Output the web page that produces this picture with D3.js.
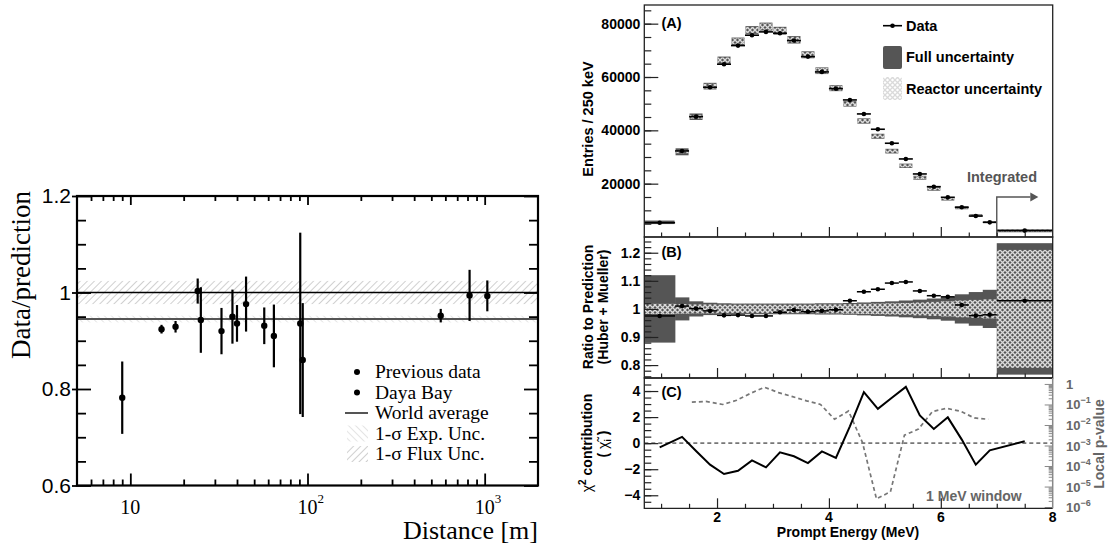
<!DOCTYPE html>
<html>
<head>
<meta charset="utf-8">
<title>Reactor flux deficit and prompt spectrum</title>
<script src="https://d3js.org/d3.v7.min.js"></script>
<style>
body { margin: 0; background: #fff; }
svg { display: block; }
.serif { font-family: "Liberation Serif", "Times New Roman", serif; }
.sans { font-family: "Liberation Sans", Arial, Helvetica, sans-serif; font-weight: bold; }
.axis path.domain { display: none; }
</style>
</head>
<body>
<svg id="chart" width="1108" height="545"></svg>
<script>

// ---- left panel: data/prediction vs baseline ----
var prevDist  = [9.0, 15, 18, 24, 25, 32.7, 37.7, 40, 45, 57, 64.6, 91, 94, 822, 1035];
var prevRatio = [0.782, 0.924, 0.929, 1.003, 0.943, 0.920, 0.950, 0.936, 0.976, 0.931, 0.910, 0.936, 0.860, 0.994, 0.993];
var prevErr   = [0.075, 0.009, 0.012, 0.026, 0.068, 0.048, 0.056, 0.038, 0.057, 0.038, 0.065, 0.188, 0.118, 0.053, 0.032];
var dybDist  = [565];
var dybRatio = [0.952];
var dybErr   = [0.014];
var worldAvg = 0.945, expUnc = 0.007;
var fluxUnc = 0.024;
var legendLeft = ["Previous data", "Daya Bay", "World average", "1-\u03c3 Exp. Unc.", "1-\u03c3 Flux Unc."];

// ---- right panel: prompt energy spectrum ----
var binEdges   = [0.7, 1.25, 1.5, 1.75, 2.0, 2.25, 2.5, 2.75, 3.0, 3.25, 3.5, 3.75, 4.0, 4.25, 4.5, 4.75, 5.0, 5.25, 5.5, 5.75, 6.0, 6.25, 6.5, 6.75, 7.0, 8.0];
var dataCounts = [5370, 32270, 45140, 56170, 64800, 71780, 75680, 76920, 76420, 73660, 67650, 61910, 55640, 51400, 46150, 40410, 35160, 29270, 23640, 18870, 14890, 11140, 7880, 5500, 2400];
var predCounts = [5510, 31950, 45100, 56570, 66330, 73390, 77620, 78890, 77350, 73960, 68330, 62350, 55810, 49950, 43500, 37770, 32200, 26710, 22220, 18020, 14280, 10990, 8070, 5620, 2330];
var dataRatio  = [0.975, 1.010, 1.001, 0.993, 0.977, 0.978, 0.975, 0.975, 0.988, 0.996, 0.990, 0.993, 0.997, 1.029, 1.061, 1.070, 1.092, 1.096, 1.064, 1.047, 1.043, 1.014, 0.976, 0.979, 1.029];
var fullUnc    = [0.120, 0.041, 0.027, 0.022, 0.020, 0.019, 0.019, 0.019, 0.019, 0.019, 0.019, 0.020, 0.020, 0.021, 0.023, 0.025, 0.027, 0.030, 0.033, 0.037, 0.042, 0.052, 0.060, 0.068, 0.234];
var reactorUnc = [0.018, 0.017, 0.016, 0.016, 0.015, 0.015, 0.015, 0.015, 0.015, 0.015, 0.015, 0.016, 0.016, 0.017, 0.018, 0.019, 0.020, 0.021, 0.023, 0.025, 0.027, 0.030, 0.032, 0.034, 0.210];
var chiContrib = [-0.32, 0.48, -0.6, -1.65, -2.37, -2.12, -1.32, -1.86, -0.71, -1.01, -1.53, -0.63, -1.14, 1.29, 3.91, 2.63, 3.48, 4.32, 2.12, 1.09, 1.98, 0.27, -1.65, -0.55, 0.14];
var pWindowE = [1.55, 1.8, 2.1, 2.35, 2.6, 2.85, 3.1, 3.35, 3.6, 3.85, 4.1, 4.35, 4.6, 4.85, 5.1, 5.35, 5.6, 5.85, 6.1, 6.35, 6.6, 6.85];
var pLocal   = [0.13, 0.14, 0.10, 0.16, 0.35, 0.69, 0.38, 0.24, 0.15, 0.10, 0.019, 0.048, 0.0014, 2.5e-6, 5.6e-6, 0.0032, 0.0063, 0.045, 0.065, 0.047, 0.022, 0.019];

var svg = d3.select("#chart");
var defs = svg.append("defs");

// hatch patterns
defs.append("pattern").attr("id", "hatchFlux").attr("patternUnits", "userSpaceOnUse")
    .attr("width", 5).attr("height", 5).attr("patternTransform", "rotate(45)")
  .append("line").attr("x1", 0).attr("y1", 0).attr("x2", 0).attr("y2", 5)
    .attr("stroke", "#a8a8a8").attr("stroke-width", 1.1);
defs.append("pattern").attr("id", "hatchExp").attr("patternUnits", "userSpaceOnUse")
    .attr("width", 5).attr("height", 5).attr("patternTransform", "rotate(-45)")
  .append("line").attr("x1", 0).attr("y1", 0).attr("x2", 0).attr("y2", 5)
    .attr("stroke", "#cfcfcf").attr("stroke-width", 1.1);
defs.append("pattern").attr("id", "xhatch").attr("patternUnits", "userSpaceOnUse")
    .attr("width", 5).attr("height", 5)
  .append("path").attr("d", "M0,0L5,5M5,0L0,5")
    .attr("stroke", "#dadada").attr("stroke-width", 1.3);

/* ================= LEFT PANEL ================= */
var L = svg.append("g").attr("class", "serif");
var xL = d3.scaleLog().domain([5, 2000]).range([77, 538]);
var yL = d3.scaleLinear().domain([0.6, 1.2]).range([485.5, 196]);

// bands
L.append("rect").attr("x", xL(5)).attr("width", xL(2000) - xL(5))
  .attr("y", yL(1 + fluxUnc)).attr("height", yL(1 - fluxUnc) - yL(1 + fluxUnc))
  .attr("fill", "url(#hatchFlux)");
L.append("rect").attr("x", xL(5)).attr("width", xL(2000) - xL(5))
  .attr("y", yL(worldAvg + expUnc)).attr("height", yL(worldAvg - expUnc) - yL(worldAvg + expUnc))
  .attr("fill", "url(#hatchExp)");
L.append("line").attr("x1", xL(5)).attr("x2", xL(2000)).attr("y1", yL(1)).attr("y2", yL(1))
  .attr("stroke", "#000").attr("stroke-width", 1.6);
L.append("line").attr("x1", xL(5)).attr("x2", xL(2000)).attr("y1", yL(worldAvg)).attr("y2", yL(worldAvg))
  .attr("stroke", "#555").attr("stroke-width", 2);

var ptsL = prevDist.map(function(d, i) { return {d: d, r: prevRatio[i], e: prevErr[i]}; })
  .concat(dybDist.map(function(d, i) { return {d: d, r: dybRatio[i], e: dybErr[i]}; }));

L.selectAll("line.err").data(ptsL).enter().append("line").attr("class", "err")
  .attr("x1", function(p) { return xL(p.d); }).attr("x2", function(p) { return xL(p.d); })
  .attr("y1", function(p) { return yL(p.r + p.e); }).attr("y2", function(p) { return yL(p.r - p.e); })
  .attr("stroke", "#000").attr("stroke-width", 2.2);
L.selectAll("circle.pt").data(ptsL).enter().append("circle").attr("class", "pt")
  .attr("cx", function(p) { return xL(p.d); }).attr("cy", function(p) { return yL(p.r); })
  .attr("r", 3.2).attr("fill", "#000");

// axes, ticks point inward
var minorY = [0.65, 0.7, 0.75, 0.85, 0.9, 0.95, 1.05, 1.1, 1.15];
var majorY = [0.6, 0.8, 1.0, 1.2];
var minorX = [6, 7, 8, 9, 20, 30, 40, 50, 60, 70, 80, 90, 200, 300, 400, 500, 600, 700, 800, 900];
var majorX = [10, 100, 1000];

function noLab() { return ""; }
L.append("g").attr("class", "axis").attr("transform", "translate(77,0)")
  .call(d3.axisLeft(yL).tickValues(minorY).tickSize(-9).tickFormat(noLab));
L.append("g").attr("class", "axis").attr("transform", "translate(77,0)")
  .call(d3.axisLeft(yL).tickValues(majorY).tickSize(-14).tickFormat(noLab));
L.append("g").attr("class", "axis").attr("transform", "translate(77,0)")
  .call(d3.axisLeft(yL).tickValues(majorY).tickSize(5).tickPadding(1)
    .tickFormat(function(d) { return d === 1 ? "1" : d3.format(".1f")(d); }))
  .selectAll("text").attr("font-size", 21).attr("fill", "#000");
L.append("g").attr("class", "axis").attr("transform", "translate(538,0)")
  .call(d3.axisRight(yL).tickValues(minorY).tickSize(-9).tickFormat(noLab));
L.append("g").attr("class", "axis").attr("transform", "translate(538,0)")
  .call(d3.axisRight(yL).tickValues(majorY).tickSize(-14).tickFormat(noLab));
L.append("g").attr("class", "axis").attr("transform", "translate(0,485.5)")
  .call(d3.axisBottom(xL).tickValues(minorX).tickSize(-6).tickFormat(noLab));
L.append("g").attr("class", "axis").attr("transform", "translate(0,485.5)")
  .call(d3.axisBottom(xL).tickValues(majorX).tickSize(-12).tickFormat(noLab));
L.append("g").attr("class", "axis").attr("transform", "translate(0,196)")
  .call(d3.axisTop(xL).tickValues(minorX).tickSize(-5).tickFormat(noLab));
L.append("g").attr("class", "axis").attr("transform", "translate(0,196)")
  .call(d3.axisTop(xL).tickValues(majorX).tickSize(-9).tickFormat(noLab));
L.selectAll(".axis line").attr("stroke", "#000").attr("stroke-width", 1.8);

L.append("rect").attr("x", 77).attr("y", 196).attr("width", 461).attr("height", 289.5)
  .attr("fill", "none").attr("stroke", "#000").attr("stroke-width", 2.2);

// log tick labels
var xlab = L.append("g").attr("font-size", 20);
xlab.append("text").attr("x", xL(10)).attr("y", 514).attr("text-anchor", "middle").text("10");
[[100, "2"], [1000, "3"]].forEach(function(t) {
  xlab.append("text").attr("x", xL(t[0]) - 10).attr("y", 514).text("10");
  xlab.append("text").attr("x", xL(t[0]) + 10).attr("y", 503).attr("font-size", 13).text(t[1]);
});

L.append("text").attr("x", 538).attr("y", 539).attr("text-anchor", "end")
  .attr("font-size", 26).text("Distance [m]");
L.append("text").attr("transform", "translate(30,275) rotate(-90)").attr("text-anchor", "middle")
  .attr("font-size", 27).text("Data/prediction");

// legend
var lg = L.append("g").attr("font-size", 19.5);
var lgY = [372, 392.5, 413, 433.5, 454];
lg.append("circle").attr("cx", 357).attr("cy", lgY[0]).attr("r", 3).attr("fill", "#000");
lg.append("circle").attr("cx", 357).attr("cy", lgY[1]).attr("r", 3).attr("fill", "#000");
lg.append("line").attr("x1", 345).attr("x2", 368).attr("y1", lgY[2]).attr("y2", lgY[2])
  .attr("stroke", "#555").attr("stroke-width", 2);
lg.append("rect").attr("x", 347).attr("y", lgY[3] - 8).attr("width", 21).attr("height", 16).attr("fill", "url(#hatchExp)");
lg.append("rect").attr("x", 347).attr("y", lgY[4] - 8).attr("width", 21).attr("height", 16).attr("fill", "url(#hatchFlux)");
lg.selectAll("text").data(legendLeft).enter().append("text")
  .attr("x", 375).attr("y", function(d, i) { return lgY[i] + 6; }).text(function(d) { return d; });

/* ================= RIGHT PANEL ================= */
var R = svg.append("g").attr("class", "sans");
var xR = d3.scaleLinear().domain([0.7, 8]).range([644.3, 1052.7]);
var yA = d3.scaleLinear().domain([0, 87000]).range([237, 5]);
var yB = d3.scaleLinear().domain([0.754, 1.256]).range([378, 237]);
var yC = d3.scaleLinear().domain([-5, 5]).range([508.3, 378]);
var yP = d3.scaleLog().domain([Math.pow(10, -6.06), Math.pow(10, 0.29)]).range([508.3, 378]);

var bins = dataCounts.map(function(n, i) {
  return {lo: binEdges[i], hi: binEdges[i + 1], mid: (binEdges[i] + binEdges[i + 1]) / 2,
          n: n, pred: predCounts[i], r: dataRatio[i], full: fullUnc[i], reac: reactorUnc[i], chi: chiContrib[i]};
});

// --- (A) spectrum
var gA = R.append("g");
gA.selectAll("rect.full").data(bins).enter().append("rect").attr("class", "full")
  .attr("x", function(b) { return xR(b.lo) + 0.5; })
  .attr("width", function(b) { return xR(b.hi) - xR(b.lo) - 1; })
  .attr("y", function(b) { return yA(b.pred * (1 + b.full)); })
  .attr("height", function(b) { return yA(b.pred * (1 - b.full)) - yA(b.pred * (1 + b.full)); })
  .attr("fill", "#555");
gA.selectAll("rect.reac").data(bins).enter().append("rect").attr("class", "reac")
  .attr("x", function(b) { return xR(b.lo) + 0.5; })
  .attr("width", function(b) { return xR(b.hi) - xR(b.lo) - 1; })
  .attr("y", function(b) { return yA(b.pred * (1 + b.reac)); })
  .attr("height", function(b) { return yA(b.pred * (1 - b.reac)) - yA(b.pred * (1 + b.reac)); })
  .attr("fill", "url(#xhatch)");
gA.selectAll("line.dat").data(bins).enter().append("line").attr("class", "dat")
  .attr("x1", function(b) { return xR(b.lo); }).attr("x2", function(b) { return xR(b.hi); })
  .attr("y1", function(b) { return yA(b.n); }).attr("y2", function(b) { return yA(b.n); })
  .attr("stroke", "#000").attr("stroke-width", 1.6);
gA.selectAll("circle.dat").data(bins).enter().append("circle").attr("class", "dat")
  .attr("cx", function(b) { return xR(b.mid); }).attr("cy", function(b) { return yA(b.n); })
  .attr("r", 2.3).attr("fill", "#000");

// integrated arrow
gA.append("path")
  .attr("d", "M" + xR(7.0) + "," + yA(0) + "V" + yA(15000) + "H" + xR(7.6))
  .attr("fill", "none").attr("stroke", "#555").attr("stroke-width", 1.4);
gA.append("path")
  .attr("d", "M" + xR(7.6) + "," + (yA(15000) - 4.5) + "L" + (xR(7.6) + 8) + "," + yA(15000) + "L" + xR(7.6) + "," + (yA(15000) + 4.5) + "Z")
  .attr("fill", "#555");
gA.append("text").attr("x", xR(7.72)).attr("y", 182).attr("text-anchor", "end")
  .attr("font-size", 14.5).attr("fill", "#555").text("Integrated");

// legend (A)
var lA = R.append("g").attr("font-size", 14.5);
lA.append("line").attr("x1", 883).attr("x2", 902).attr("y1", 25.7).attr("y2", 25.7).attr("stroke", "#000").attr("stroke-width", 1.6);
lA.append("circle").attr("cx", 892.5).attr("cy", 25.7).attr("r", 2.3).attr("fill", "#000");
lA.append("rect").attr("x", 883).attr("y", 46).attr("width", 19).attr("height", 23).attr("rx", 2).attr("fill", "#555");
lA.append("rect").attr("x", 883).attr("y", 77).attr("width", 19).attr("height", 23).attr("rx", 2).attr("fill", "#fff");
lA.append("rect").attr("x", 883).attr("y", 77).attr("width", 19).attr("height", 23).attr("rx", 2).attr("fill", "url(#xhatch)");
lA.selectAll("text").data(["Data", "Full uncertainty", "Reactor uncertainty"]).enter().append("text")
  .attr("x", 906).attr("y", function(d, i) { return [31, 62, 93.5][i]; }).text(function(d) { return d; });

// --- (B) ratio
var gB = R.append("g");
gB.selectAll("rect.full").data(bins).enter().append("rect")
  .attr("x", function(b) { return xR(b.lo); })
  .attr("width", function(b) { return xR(b.hi) - xR(b.lo) + 0.3; })
  .attr("y", function(b) { return yB(1 + b.full); })
  .attr("height", function(b) { return yB(1 - b.full) - yB(1 + b.full); })
  .attr("fill", "#555");
gB.selectAll("rect.reac").data(bins).enter().append("rect")
  .attr("x", function(b) { return xR(b.lo); })
  .attr("width", function(b) { return xR(b.hi) - xR(b.lo) + 0.3; })
  .attr("y", function(b) { return yB(1 + b.reac); })
  .attr("height", function(b) { return yB(1 - b.reac) - yB(1 + b.reac); })
  .attr("fill", "url(#xhatch)");
gB.selectAll("line.dat").data(bins).enter().append("line")
  .attr("x1", function(b) { return xR(b.lo); }).attr("x2", function(b) { return xR(b.hi); })
  .attr("y1", function(b) { return yB(b.r); }).attr("y2", function(b) { return yB(b.r); })
  .attr("stroke", "#000").attr("stroke-width", 1.5);
gB.selectAll("circle.dat").data(bins).enter().append("circle")
  .attr("cx", function(b) { return xR(b.mid); }).attr("cy", function(b) { return yB(b.r); })
  .attr("r", 2.3).attr("fill", "#000");

// --- (C) chi2 contribution and local p-value
var gC = R.append("g");
gC.append("line").attr("x1", xR(0.7)).attr("x2", xR(8)).attr("y1", yC(0)).attr("y2", yC(0))
  .attr("stroke", "#777").attr("stroke-width", 1.6).attr("stroke-dasharray", "4,3");
gC.append("path").datum(pWindowE.map(function(e, i) { return [e, pLocal[i]]; }))
  .attr("d", d3.line().x(function(d) { return xR(d[0]); }).y(function(d) { return yP(d[1]); }))
  .attr("fill", "none").attr("stroke", "#777").attr("stroke-width", 1.7).attr("stroke-dasharray", "4,3");
gC.append("path").datum(bins)
  .attr("d", d3.line().x(function(b) { return xR(b.mid); }).y(function(b) { return yC(b.chi); }))
  .attr("fill", "none").attr("stroke", "#000").attr("stroke-width", 2);
gC.append("text").attr("x", xR(7.0) + 25).attr("y", 501).attr("text-anchor", "end")
  .attr("font-size", 14).attr("fill", "#666").text("1 MeV window");

// axes of right panel
var axR = R.append("g");
function leftTicks(scale, major, minor, fmt) {
  axR.append("g").attr("class", "axis").attr("transform", "translate(644.3,0)")
    .call(d3.axisLeft(scale).tickValues(minor).tickSize(-7).tickFormat(noLab));
  axR.append("g").attr("class", "axis lab").attr("transform", "translate(644.3,0)")
    .call(d3.axisLeft(scale).tickValues(major).tickSize(-14).tickPadding(4).tickFormat(fmt));
}
leftTicks(yA, [20000, 40000, 60000, 80000], d3.range(5000, 86000, 5000), d3.format("d"));
leftTicks(yB, [0.8, 0.9, 1.0, 1.1, 1.2], d3.range(0.76, 1.255, 0.02),
  function(d) { return d === 1 ? "1" : d3.format(".1f")(d); });
leftTicks(yC, [-4, -2, 0, 2, 4], d3.range(-4.5, 5, 0.5),
  function(d) { return d < 0 ? "\u2212" + (-d) : String(d); });

var eMinor = [1, 1.5, 2.5, 3, 3.5, 4.5, 5, 5.5, 6.5, 7, 7.5];
[237, 378, 508.3].forEach(function(y) {
  axR.append("g").attr("class", "axis").attr("transform", "translate(0," + y + ")")
    .call(d3.axisBottom(xR).tickValues(eMinor).tickSize(-4.5).tickFormat(noLab));
  axR.append("g").attr("class", "axis").attr("transform", "translate(0," + y + ")")
    .call(d3.axisBottom(xR).tickValues([2, 4, 6]).tickSize(-10).tickFormat(noLab));
});
axR.selectAll(".axis line").attr("stroke", "#222").attr("stroke-width", 1.2);
axR.selectAll(".lab text").attr("font-size", 14).attr("fill", "#000");

// x tick labels
axR.selectAll("text.xl").data([2, 4, 6, 8]).enter().append("text")
  .attr("x", function(d) { return xR(d); }).attr("y", 522).attr("text-anchor", "middle")
  .attr("font-size", 14).text(function(d) { return d; });

// p-value axis (gray, right of C)
var pMajor = [1e-6, 1e-5, 1e-4, 1e-3, 1e-2, 1e-1, 1];
var pMinor = [];
pMajor.slice(0, 6).forEach(function(m) { [2, 3, 4, 5, 6, 7, 8, 9].forEach(function(k) { pMinor.push(m * k); }); });
pMinor.push(2, 0.95e-6);
var axP = R.append("g");
axP.append("g").attr("class", "axis").attr("transform", "translate(1052.7,0)")
  .call(d3.axisRight(yP).tickValues(pMinor).tickSize(-4).tickFormat(noLab));
axP.append("g").attr("class", "axis").attr("transform", "translate(1052.7,0)")
  .call(d3.axisRight(yP).tickValues(pMajor).tickSize(-8).tickFormat(noLab));
axP.selectAll(".axis line").attr("stroke", "#888").attr("stroke-width", 1);
pMajor.forEach(function(p) {
  var e = Math.round(Math.log10(p));
  var t = axP.append("text").attr("x", 1066).attr("y", yP(p) + 5).attr("font-size", 13).attr("fill", "#666");
  if (e === 0) { t.text("1"); return; }
  t.append("tspan").text("10");
  t.append("tspan").attr("dy", -6).attr("font-size", 9).text("\u2212" + (-e));
});

// frames
R.append("rect").attr("x", 644.3).attr("y", 5).attr("width", 408.4).attr("height", 232)
  .attr("fill", "none").attr("stroke", "#222").attr("stroke-width", 1.3);
R.append("rect").attr("x", 644.3).attr("y", 237).attr("width", 408.4).attr("height", 141)
  .attr("fill", "none").attr("stroke", "#222").attr("stroke-width", 1.3);
R.append("path").attr("d", "M1052.7,378H644.3V508.3H1052.7")
  .attr("fill", "none").attr("stroke", "#222").attr("stroke-width", 1.3);
R.append("line").attr("x1", 1052.7).attr("x2", 1052.7).attr("y1", 378).attr("y2", 508.3)
  .attr("stroke", "#888").attr("stroke-width", 1.5);

// panel tags
R.selectAll("text.tag").data([["(A)", 28], ["(B)", 257], ["(C)", 396.5]]).enter().append("text")
  .attr("x", 661.5).attr("y", function(d) { return d[1]; }).attr("font-size", 14.5).text(function(d) { return d[0]; });

// axis titles
R.append("text").attr("transform", "translate(593,119) rotate(-90)").attr("text-anchor", "middle")
  .attr("font-size", 14.5).text("Entries / 250 keV");
R.append("text").attr("transform", "translate(593,307) rotate(-90)").attr("text-anchor", "middle")
  .attr("font-size", 14).text("Ratio to Prediction");
R.append("text").attr("transform", "translate(608,307) rotate(-90)").attr("text-anchor", "middle")
  .attr("font-size", 14).text("(Huber + Mueller)");
var chiT = R.append("text").attr("transform", "translate(592,443) rotate(-90)").attr("text-anchor", "middle")
  .attr("font-size", 14);
chiT.append("tspan").attr("font-weight", "normal").text("\u03c7");
chiT.append("tspan").attr("dy", -6).attr("font-size", 10).text("2");
chiT.append("tspan").attr("dy", 6).text(" contribution");
var chiT2 = R.append("text").attr("transform", "translate(608,444) rotate(-90)").attr("text-anchor", "middle")
  .attr("font-size", 14);
chiT2.append("tspan").text("( ");
chiT2.append("tspan").attr("font-weight", "normal").text("\u03c7\u0303");
chiT2.append("tspan").attr("dy", 3).attr("font-size", 9).text("i");
chiT2.append("tspan").attr("dy", -3).text(" )");
R.append("text").attr("transform", "translate(1104,444) rotate(-90)").attr("text-anchor", "middle")
  .attr("font-size", 14).attr("fill", "#666").text("Local p-value");
R.append("text").attr("x", 848).attr("y", 537).attr("text-anchor", "middle")
  .attr("font-size", 14).text("Prompt Energy (MeV)");

</script>
</body>
</html>
